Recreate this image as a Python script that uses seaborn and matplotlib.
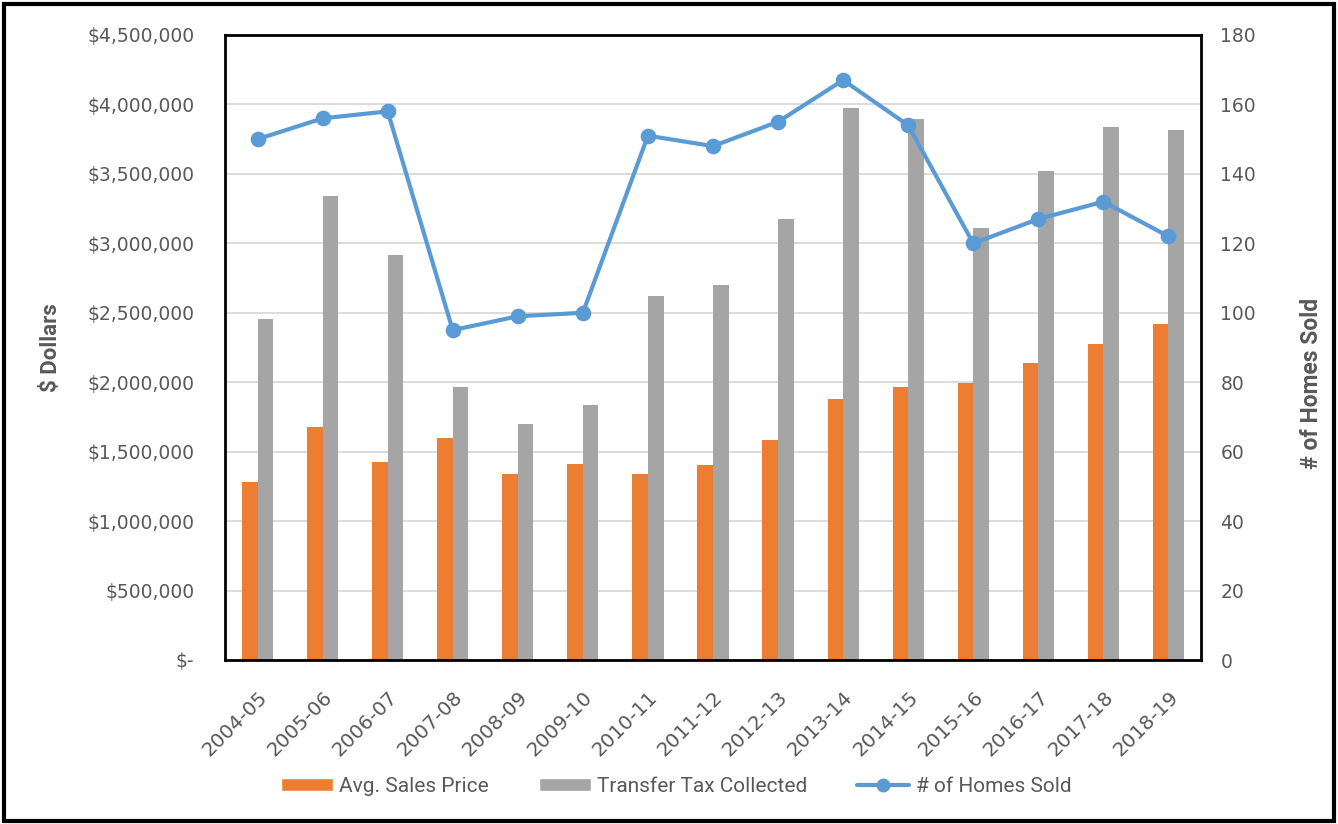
import numpy as np
import pandas as pd
import matplotlib
matplotlib.use("Agg")
import matplotlib.pyplot as plt
import seaborn as sns
from matplotlib.patches import Patch, Rectangle
from matplotlib.lines import Line2D
from matplotlib.ticker import FuncFormatter, MultipleLocator

# ---- data ----
years = ["2004-05", "2005-06", "2006-07", "2007-08", "2008-09", "2009-10", "2010-11",
         "2011-12", "2012-13", "2013-14", "2014-15", "2015-16", "2016-17", "2017-18", "2018-19"]
avg_price = [1285000, 1675000, 1425000, 1600000, 1342000, 1413000, 1342000,
             1405000, 1582000, 1877000, 1968000, 1997000, 2136000, 2273000, 2421000]
transfer_tax = [2457000, 3343000, 2918000, 1968000, 1699000, 1838000, 2623000,
                2698000, 3175000, 3972000, 3895000, 3110000, 3518000, 3840000, 3814000]
homes_sold = [150, 156, 158, 95, 99, 100, 151, 148, 155, 167, 154, 120, 127, 132, 122]
series_names = ["Avg. Sales Price", "Transfer Tax Collected", "# of Homes Sold"]

ORANGE = "#ED7D31"
GRAY = "#A5A5A5"
BLUE = "#5B9BD5"
TXT = "#595959"

sns.set_theme(style="white")
plt.rcParams['font.family'] = ['DejaVu Sans']
NARROW = ['Roboto', 'DejaVu Sans']

W, H = 1338, 824
fig = plt.figure(figsize=(W / 100, H / 100), dpi=100)
L, R, T, B = 225, 1201, 35, 660
ax = fig.add_axes([L / W, 1 - B / H, (R - L) / W, (B - T) / H])

df = pd.DataFrame({"Year": years, series_names[0]: avg_price, series_names[1]: transfer_tax})
long = df.melt(id_vars="Year", var_name="Series", value_name="Value")
sns.barplot(data=long, x="Year", y="Value", hue="Series", palette=[ORANGE, GRAY],
            width=0.48, saturation=1, ax=ax, legend=False, errorbar=None,
            linewidth=0, edgecolor="none")

ax.set_ylim(0, 4.5e6)
ax.yaxis.set_major_locator(MultipleLocator(500000))
ax.yaxis.set_major_formatter(FuncFormatter(lambda v, p: r"\$-" if v == 0 else r"\${:,.0f}".format(v)))
ax.yaxis.grid(True, color="#D9D9D9", lw=1.3)
ax.xaxis.grid(False)
ax.set_axisbelow(True)
ax.set_xlim(-0.5, len(years) - 0.5)
for s in ax.spines.values():
    s.set_color("black")
    s.set_linewidth(2)
ax.tick_params(axis="y", length=0, pad=22, labelsize=13.5, labelcolor=TXT)
ax.tick_params(axis="x", length=0, pad=20, labelsize=14.3, labelcolor=TXT)
ax.set_xlabel("")
ax.set_ylabel(r"\$ Dollars", fontsize=16, fontweight="bold", color=TXT, family=NARROW)
ax.yaxis.set_label_coords((62 - L) / (R - L), 0.5)

ax2 = ax.twinx()
sns.pointplot(x=years, y=homes_sold, ax=ax2, color=BLUE, markers="o",
              markersize=9, linewidth=3, errorbar=None)
ax2.set_ylim(0, 180)
ax2.yaxis.set_major_locator(MultipleLocator(20))
ax2.grid(False)
for s in ax2.spines.values():
    s.set_visible(False)
ax2.tick_params(axis="y", length=0, pad=14, labelsize=13.5, labelcolor=TXT)
ax2.set_ylabel(series_names[2], fontsize=16.5, fontweight="bold", color=TXT, family=NARROW)
ax2.yaxis.set_label_coords((1300 - L) / (R - L), (B - 383) / (B - T))
ax2.set_xlim(-0.5, len(years) - 0.5)

ax.set_xticks(range(len(years)))
ax.set_xticklabels(years)
plt.setp(ax.get_xticklabels(), rotation=45, ha="right", rotation_mode="anchor")
ax2.set_xlabel("")

handles = [Patch(facecolor=ORANGE), Patch(facecolor=GRAY),
           Line2D([], [], color=BLUE, lw=3, marker="o", markersize=9)]
leg = fig.legend(handles, series_names, loc="center", bbox_to_anchor=(676 / W, 1 - 786 / H),
                 ncol=3, frameon=False, prop={"family": NARROW, "size": 15},
                 handlelength=2.5, handleheight=0.6, handletextpad=0.3, columnspacing=2.4)
for t in leg.get_texts():
    t.set_color(TXT)

fig.patches.append(Rectangle((4 / W, 3 / H), 1 - 8 / W, 1 - 7 / H, transform=fig.transFigure,
                             fill=False, edgecolor="black", lw=3))

fig.savefig("out.png", dpi=100)
